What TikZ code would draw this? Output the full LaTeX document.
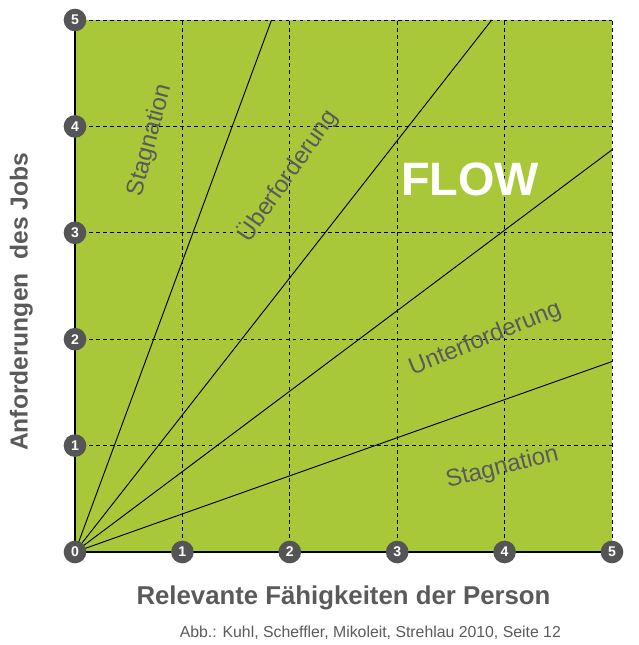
\documentclass[tikz,border=0pt]{standalone}
\usepackage{fontspec}
\setmainfont{Liberation Sans}
\usetikzlibrary{positioning}
\definecolor{flowgreen}{HTML}{A8C83A}
\definecolor{labelgray}{HTML}{5A5A5A}
\definecolor{markgray}{HTML}{555555}
\tikzset{
  gridline/.style={dashed, black, line width=0.6pt},
  zoneline/.style={black, line width=0.8pt},
  axisline/.style={black, line width=2.2pt},
  tickmark/.style={circle, fill=markgray, minimum size=0.68cm, inner sep=0pt,
    text=white, font=\bfseries\fontsize{12}{12}\selectfont},
  zonelabel/.style={text=labelgray, font=\fontsize{20.5}{20.5}\selectfont}
}
\begin{document}
\begin{tikzpicture}[x=3.222cm, y=3.192cm]
\useasboundingbox (-2.25/3.222,-2.79/3.192) rectangle (16.89/3.222,16.56/3.192);
% field
\fill[flowgreen] (0,0) rectangle (5,5);
\foreach \i in {1,...,5} {
  \draw[gridline] (\i,0) -- (\i,5);
  \draw[gridline] (0,\i) -- (5,\i);
}
% zones
\coordinate (o) at (0,0);
\coordinate (s1) at (1.83,5);
\coordinate (s2) at (3.88,5);
\coordinate (s3) at (5,3.78);
\coordinate (s4) at (5,1.79);
\foreach \e in {s1,s2,s3,s4} \draw[zoneline] (o) -- (\e);
% axes
\draw[axisline] (0,5) -- (o) -- (5,0);
\foreach \i in {1,...,5} {
  \node[tickmark] (x\i) at (\i,0) {\i};
  \node[tickmark] (y\i) at (0,\i) {\i};
}
\node[tickmark] (n0) at (0,0) {0};
% labels
\node[zonelabel, rotate=75] (stag1) at (0.70,3.87) {Stagnation};
\node[zonelabel, rotate=55] (ueber) at (1.98,3.54) {Überforderung};
\node[zonelabel, rotate=22] (unter) at (3.82,2.0) {Unterforderung};
\node[zonelabel, rotate=14] (stag2) at (3.98,0.79) {Stagnation};
\node[text=white, font=\bfseries\fontsize{40}{40}\selectfont] (flow) at (3.68,3.5) {FLOW};
\node[text=labelgray, font=\bfseries\fontsize{21}{21}\selectfont, rotate=90] (ylab) at (-0.5,2.35) {Anforderungen\ \ des Jobs};
\node[text=labelgray, font=\bfseries\fontsize{22}{22}\selectfont] (xlab) at (2.50,-0.43) {Relevante Fähigkeiten der Person};
\node[text=labelgray, font=\fontsize{13.5}{13.5}\selectfont] (quelle) at (2.75,-0.76) {Abb.: Kuhl, Scheffler, Mikoleit, Strehlau 2010, Seite 12};
\end{tikzpicture}
\end{document}
